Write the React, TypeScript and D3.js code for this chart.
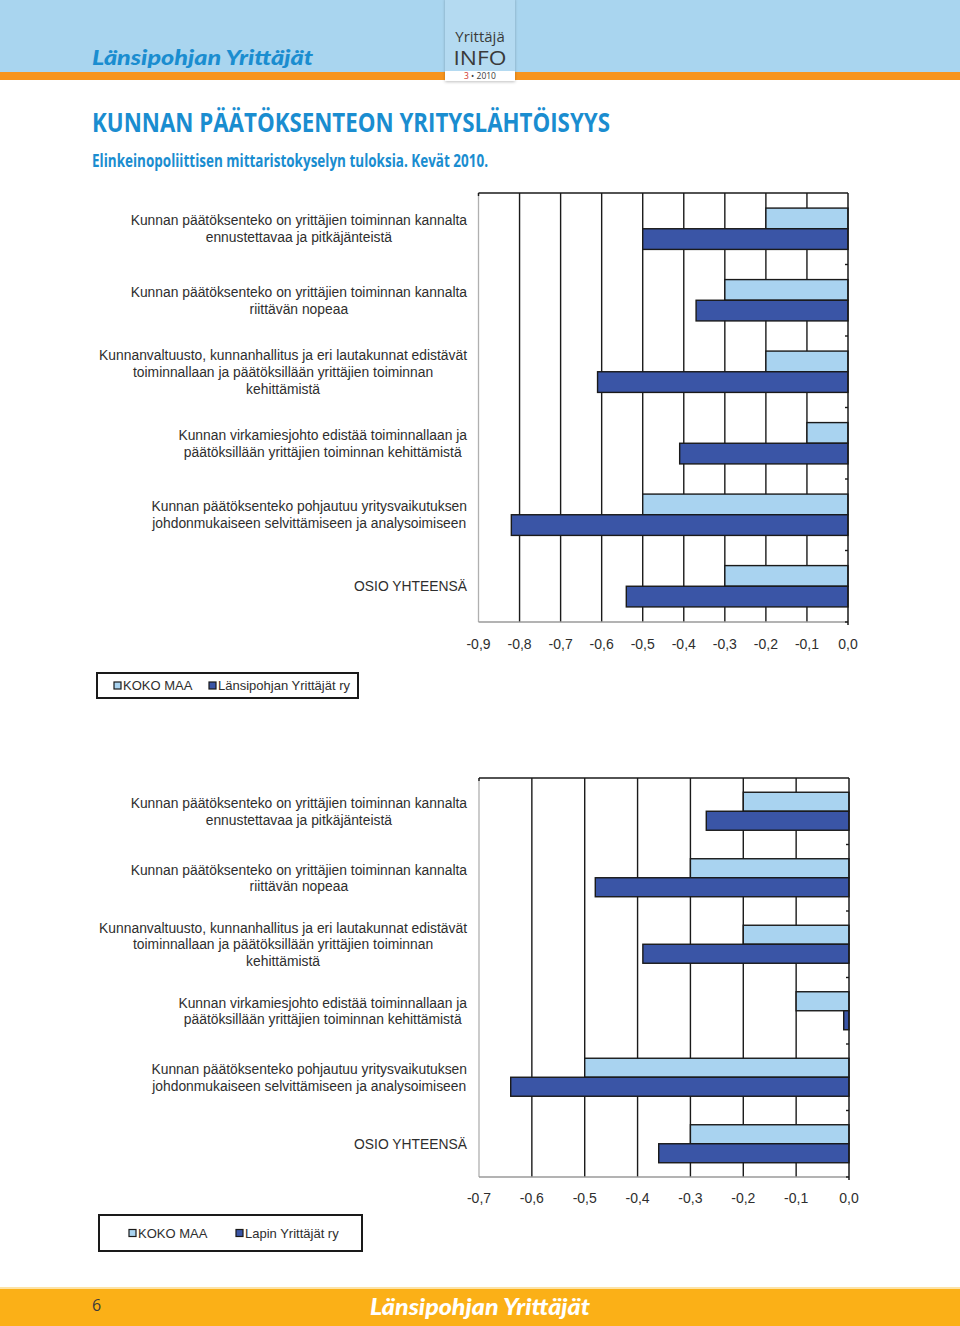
import React from "react";
import * as d3 from "d3";

// ---------- DATA ----------
const CATEGORIES: string[][] = [
  ["Kunnan päätöksenteko on yrittäjien toiminnan kannalta", "ennustettavaa ja pitkäjänteistä"],
  ["Kunnan päätöksenteko on yrittäjien toiminnan kannalta", "riittävän nopeaa"],
  [
    "Kunnanvaltuusto, kunnanhallitus ja eri lautakunnat edistävät",
    "toiminnallaan ja päätöksillään yrittäjien toiminnan",
    "kehittämistä",
  ],
  ["Kunnan virkamiesjohto edistää toiminnallaan ja", "päätöksillään yrittäjien toiminnan kehittämistä"],
  ["Kunnan päätöksenteko pohjautuu yritysvaikutuksen", "johdonmukaiseen selvittämiseen ja analysoimiseen"],
  ["OSIO YHTEENSÄ"],
];

const KOKO_MAA_1 = [-0.2, -0.3, -0.2, -0.1, -0.5, -0.3];
const LANSIPOHJAN = [-0.5, -0.37, -0.61, -0.41, -0.82, -0.54];
const KOKO_MAA_2 = [-0.2, -0.3, -0.2, -0.1, -0.5, -0.3];
const LAPIN = [-0.27, -0.48, -0.39, -0.01, -0.64, -0.36];

const TICKS_1 = [-0.9, -0.8, -0.7, -0.6, -0.5, -0.4, -0.3, -0.2, -0.1, 0];
const TICKS_2 = [-0.7, -0.6, -0.5, -0.4, -0.3, -0.2, -0.1, 0];

const SERIES_1 = ["KOKO MAA", "Länsipohjan Yrittäjät ry"];
const SERIES_2 = ["KOKO MAA", "Lapin Yrittäjät ry"];

const TITLE = "KUNNAN PÄÄTÖKSENTEON YRITYSLÄHTÖISYYS";
const SUBTITLE = "Elinkeinopoliittisen mittaristokyselyn tuloksia. Kevät 2010.";
const BRAND = "Länsipohjan Yrittäjät";

// ---------- STYLE ----------
const LIGHT = "#a9d3f0";
const DARK = "#3a55a6";
const TEXT = "#2e2e2e";
const BLUE = "#1a8dd0";
const LABEL_FONT = "'Liberation Sans', Arial, sans-serif";
const LABEL_SIZE = 13.85;

const fmt = d3
  .formatLocale({ decimal: ",", thousands: " ", grouping: [3], currency: ["", "€"], minus: "-" })
  .format(".1f");

let _ctx: CanvasRenderingContext2D | null = null;
function measure(t: string, font: string): number {
  if (!_ctx) _ctx = document.createElement("canvas").getContext("2d");
  if (!_ctx) return t.length * 6.5;
  _ctx.font = font;
  return _ctx.measureText(t).width;
}

type ChartProps = {
  a: number[];
  b: number[];
  ticks: number[];
  left: number;
  right: number;
  top: number;
  bottom: number;
  labelRight: number;
  lineH: number;
  barPad: number;
  tickDy: number;
};

function BarChart({ a, b, ticks, left, right, top, bottom, labelRight, lineH, barPad, tickDy }: ChartProps) {
  const x = d3.scaleLinear().domain([d3.min(ticks) as number, 0]).range([left, right]);
  const idx = CATEGORIES.map((_, i) => String(i));
  const y = d3.scaleBand().domain(idx).range([top, bottom]).padding(0);
  const inner = d3
    .scaleBand()
    .domain(["a", "b"])
    .range([0, y.bandwidth()])
    .paddingInner(0)
    .paddingOuter(barPad);

  const font = `${LABEL_SIZE}px ${LABEL_FONT}`;
  const x0 = x(0);

  return (
    <g>
      {/* gridlines */}
      {ticks
        .filter((t) => t !== 0 && t !== d3.min(ticks))
        .map((t) => (
          <line key={"g" + t} x1={x(t)} x2={x(t)} y1={top} y2={bottom} stroke="#1a1a1a" strokeWidth={1.4} />
        ))}
      {/* left & bottom frame (gray) */}
      <line x1={left} x2={left} y1={top} y2={bottom} stroke="#b0b0b0" strokeWidth={1.3} />
      <line x1={left} x2={x0} y1={bottom} y2={bottom} stroke="#9a9a9a" strokeWidth={1.4} />
      {/* top line */}
      <line x1={left} x2={x0} y1={top} y2={top} stroke="#1a1a1a" strokeWidth={1.4} />
      <line x1={left} x2={left} y1={top} y2={top + 3} stroke="#1a1a1a" strokeWidth={1.4} />
      {/* bars */}
      {idx.map((k, i) => {
        const by = y(k) as number;
        return (
          <g key={"b" + k}>
            <rect
              x={x(a[i])}
              y={by + (inner("a") as number)}
              width={x0 - x(a[i])}
              height={inner.bandwidth()}
              fill={LIGHT}
              stroke="#1a1a1a"
              strokeWidth={1.4}
            />
            <rect
              x={x(b[i])}
              y={by + (inner("b") as number)}
              width={x0 - x(b[i])}
              height={inner.bandwidth()}
              fill={DARK}
              stroke="#1a1a1a"
              strokeWidth={1.4}
            />
          </g>
        );
      })}
      {/* right axis */}
      <line x1={x0} x2={x0} y1={top} y2={bottom + 3} stroke="#1a1a1a" strokeWidth={1.5} />
      {idx.map((k) => (
        <line
          key={"t" + k}
          x1={x0 - 3}
          x2={x0}
          y1={(y(k) as number) + y.bandwidth()}
          y2={(y(k) as number) + y.bandwidth()}
          stroke="#1a1a1a"
          strokeWidth={1.4}
        />
      ))}
      {/* tick labels */}
      {ticks.map((t) => (
        <text
          key={"l" + t}
          x={x(t)}
          y={bottom + tickDy}
          textAnchor="middle"
          dominantBaseline="central"
          fontFamily={LABEL_FONT}
          fontSize={14}
          fill={TEXT}
        >
          {fmt(t)}
        </text>
      ))}
      {/* category labels */}
      {CATEGORIES.map((lines, i) => {
        const cy = (y(String(i)) as number) + y.bandwidth() / 2;
        const maxW = d3.max(lines, (l) => measure(l, font)) as number;
        const cx = labelRight - maxW / 2;
        const y0 = cy - ((lines.length - 1) * lineH) / 2;
        return (
          <text
            key={"c" + i}
            textAnchor="middle"
            fontFamily={LABEL_FONT}
            fontSize={LABEL_SIZE}
            fill={TEXT}
            dominantBaseline="central"
          >
            {lines.map((l, j) => (
              <tspan key={j} x={cx} y={y0 + j * lineH}>
                {l}
              </tspan>
            ))}
          </text>
        );
      })}
    </g>
  );
}

type LegendProps = {
  names: string[];
  box: [number, number, number, number];
  markers: number[];
  cy: number;
};

function Legend({ names, box, markers, cy }: LegendProps) {
  const fills = [LIGHT, DARK];
  return (
    <g>
      <rect x={box[0]} y={box[1]} width={box[2]} height={box[3]} fill="#fff" stroke="#1a1a1a" strokeWidth={2} />
      {names.map((n, i) => (
        <g key={n}>
          <rect x={markers[i]} y={cy - 3.5} width={7} height={7} fill={fills[i]} stroke="#1a1a1a" strokeWidth={1.2} />
          <text
            x={markers[i] + 9}
            y={cy}
            dominantBaseline="central"
            fontFamily={LABEL_FONT}
            fontSize={13}
            fill={TEXT}
          >
            {n}
          </text>
        </g>
      ))}
    </g>
  );
}

export default function App() {
  return (
    <>
      <style>{"body{margin:0;} svg{display:block;}"}</style>
      <svg width={960} height={1326} viewBox="0 0 960 1326">
        <defs>
          <filter id="shadow" x="-20%" y="-20%" width="140%" height="140%">
            <feDropShadow dx="0" dy="1" stdDeviation="1.5" floodColor="#000" floodOpacity="0.25" />
          </filter>
        </defs>
        <rect x={0} y={0} width={960} height={1326} fill="#fff" />
        {/* header */}
        <rect x={0} y={0} width={960} height={73} fill="#a9d5ef" />
        <rect x={0} y={72} width={960} height={8} fill="#f7941d" />
        <text
          x={92}
          y={65}
          fontFamily="Lato, 'Open Sans', sans-serif"
          fontWeight={900}
          fontStyle="italic"
          fontSize={21}
          fill={BLUE}
          textLength={221}
          lengthAdjust="spacingAndGlyphs"
        >
          {BRAND}
        </text>
        <g filter="url(#shadow)">
          <rect x={445} y={-2} width={70} height={82} fill="#b4daf1" />
          <rect x={445} y={71} width={70} height={10} fill="#ffffff" />
        </g>
        <text x={480} y={42} textAnchor="middle" fontFamily="'Open Sans', sans-serif" fontSize={15} fill="#3a3a3a">
          Yrittäjä
        </text>
        <text
          x={480}
          y={64.5}
          textAnchor="middle"
          fontFamily="'Open Sans', sans-serif"
          fontSize={19.5}
          fill="#3a3a3a"
          textLength={53}
          lengthAdjust="spacingAndGlyphs"
        >
          INFO
        </text>
        <text x={480} y={79} textAnchor="middle" fontFamily="'Open Sans', sans-serif" fontSize={8.5} fill="#3a3a3a">
          <tspan fill="#d0342c">3</tspan> • 2010
        </text>

        {/* titles */}
        <text
          x={92}
          y={132}
          fontFamily="'Liberation Sans Narrow', 'Open Sans', sans-serif"
          fontWeight={700}
          fontSize={27}
          fill={BLUE}
          textLength={518}
          lengthAdjust="spacingAndGlyphs"
        >
          {TITLE}
        </text>
        <text
          x={92}
          y={167}
          fontFamily="'Liberation Sans Narrow', 'Open Sans', sans-serif"
          fontWeight={700}
          fontSize={17}
          fill={BLUE}
          textLength={396}
          lengthAdjust="spacingAndGlyphs"
        >
          {SUBTITLE}
        </text>

        {/* chart 1 */}
        <BarChart
          a={KOKO_MAA_1}
          b={LANSIPOHJAN}
          ticks={TICKS_1}
          left={478.5}
          right={848}
          top={193}
          bottom={622}
          labelRight={467}
          lineH={17}
          barPad={0.73}
          tickDy={22}
        />
        <Legend names={SERIES_1} box={[97, 673, 261, 25]} markers={[114, 209]} cy={685.5} />

        {/* chart 2 */}
        <BarChart
          a={KOKO_MAA_2}
          b={LAPIN}
          ticks={TICKS_2}
          left={479}
          right={849}
          top={778}
          bottom={1177}
          labelRight={467}
          lineH={16.5}
          barPad={0.75}
          tickDy={21}
        />
        <Legend names={SERIES_2} box={[99, 1215, 263, 36]} markers={[129, 236]} cy={1233} />

        {/* footer */}
        <rect x={0} y={1287} width={960} height={2} fill="#fde3a6" />
        <rect x={0} y={1289} width={960} height={37} fill="#fbb017" />
        <text
          x={92}
          y={1311}
          fontFamily="'Liberation Sans Narrow', 'Open Sans', sans-serif"
          fontSize={16}
          fill="#3a3a3a"
        >
          6
        </text>
        <text
          x={370}
          y={1315}
          fontFamily="Lato, 'Open Sans', sans-serif"
          fontWeight={900}
          fontStyle="italic"
          fontSize={22}
          fill="#ffffff"
          textLength={220}
          lengthAdjust="spacingAndGlyphs"
        >
          {BRAND}
        </text>
      </svg>
    </>
  );
}
